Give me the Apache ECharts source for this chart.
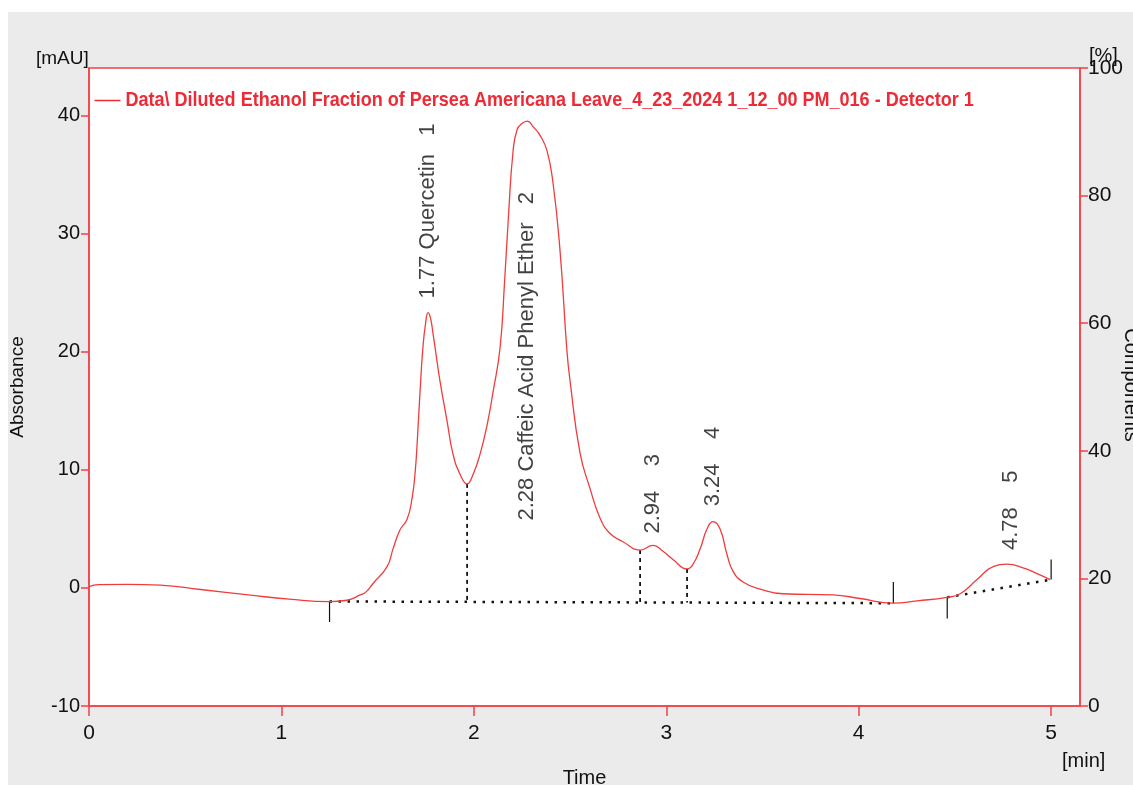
<!DOCTYPE html>
<head>
    <meta charset="utf-8"/>
    <style>
        html, body {
            margin: 0;
            height: 100%;
            background-color: #ffffff;
        }
        #bg {
            position: absolute;
            left: 8px; top: 12px; right: 0; bottom: 0;
            background-color: #ebebeb;
        }
        #main {
            position: absolute;
            left: 0; top: 0;
            width: 1133px; height: 785px;
        }
    </style>
    <script src="https://cdn.jsdelivr.net/npm/echarts@6/dist/echarts.min.js"></script>
</head>
<body>
<div id="bg"></div>
<div id="main"></div>
<script type="text/javascript">
 // chromatogram trace (min, mAU)
 var time = [0.00, 0.05, 0.20, 0.37, 0.58, 0.84, 1.04, 1.25, 1.34, 1.41, 1.44, 1.476, 1.549, 1.58, 1.616,
     1.653, 1.679, 1.695, 1.708, 1.72, 1.735, 1.75, 1.762, 1.775, 1.788, 1.805, 1.824, 1.861, 1.892, 1.929,
     1.965, 1.996, 2.032, 2.069, 2.10, 2.136, 2.16, 2.18, 2.204, 2.225, 2.25, 2.277, 2.31, 2.344, 2.38,
     2.412, 2.448, 2.484, 2.50, 2.552, 2.604, 2.656, 2.708, 2.775, 2.864, 2.931, 2.983, 3.035, 3.108, 3.139,
     3.176, 3.212, 3.243, 3.279, 3.316, 3.347, 3.399, 3.488, 3.607, 3.867, 4.007, 4.179, 4.304, 4.459, 4.527,
     4.615, 4.699, 4.771, 4.854, 4.927, 4.995];
 var absorbance = [0.1, 0.28, 0.3, 0.23, -0.14, -0.62, -0.96, -1.17, -1.05, -0.6, -0.34, 0.37, 1.8, 3.3, 4.9,
     5.8, 7.6, 9.8, 13, 16.5, 20.3, 22.5, 23.3, 22.8, 21.5, 19.6, 17.5, 14.1, 11.3, 9.6,
     8.8, 9.6, 11.3, 13.8, 16.6, 20.3, 26, 31.5, 37, 38.8, 39.3, 39.5, 39.0, 38.3, 37,
     34.2, 28.5, 20, 17.5, 11.4, 8.4, 5.9, 4.6, 3.9, 3.2, 3.6, 3.1, 2.4, 1.6, 2.0,
     3.3, 5.0, 5.6, 5.0, 2.8, 1.4, 0.5, -0.1, -0.5, -0.6, -0.9, -1.3, -1.1, -0.8, -0.5,
     0.7, 1.8, 2.0, 1.7, 1.2, 0.7];

 // peaks
 var peakTimes = [1.762, 2.277, 2.93, 3.243, 4.79];
 var peakLabels = ['1.77 Quercetin   1', '2.28 Caffeic Acid Phenyl Ether   2', '2.94    3', '3.24    4', '4.78    5'];
 var labelBase = [24.5, 5.7, 4.6, 6.9, 3.2];

 // integration baselines
 var baselineA = [[1.25, -1.15], [4.18, -1.3]];
 var baselineB = [[4.46, -0.8], [5.0, 0.7]];
 // drop lines between peaks
 var dropTimes = [1.965, 2.864, 3.108];
 var dropTop = [8.8, 3.2, 1.6];
 var dropBottom = [-1.2, -1.25, -1.25];
 // peak start / end marks
 var markTimes = [1.25, 4.18, 4.46, 5.0];
 var markFrom = [-1.15, -1.3, -0.8, 0.7];
 var markTo = [-2.9, 0.5, -2.6, 2.4];

 var red = '#f2414a';
 var txtFont = "'Liberation Sans Narrow', 'Liberation Sans', Arial";

 var trace = time.map(function (t, i) { return [t, absorbance[i]]; });

 var series = [{
     type: 'line',
     data: trace,
     smooth: 0.5,
     symbol: 'none',
     lineStyle: {color: '#f23b3b', width: 1.3},
     z: 5
 }];
 [baselineA, baselineB].forEach(function (b) {
     series.push({
         type: 'line', data: b, symbol: 'none', silent: true,
         lineStyle: {color: '#111', width: 2.5, type: [2.5, 6.5]}
     });
 });
 dropTimes.forEach(function (t, i) {
     series.push({
         type: 'line', data: [[t, dropTop[i]], [t, dropBottom[i]]], symbol: 'none', silent: true,
         lineStyle: {color: '#111', width: 1.8, type: [4, 4]}
     });
 });
 markTimes.forEach(function (t, i) {
     series.push({
         type: 'line', data: [[t, markFrom[i]], [t, markTo[i]]], symbol: 'none', silent: true,
         lineStyle: {color: '#111', width: 1.2}
     });
 });
 series.push({
     type: 'scatter',
     symbolSize: 0,
     data: peakTimes.map(function (t, i) { return [t, labelBase[i]]; }),
     label: {
         show: true,
         position: 'inside',
         rotate: 90,
         align: 'left',
         verticalAlign: 'middle',
         color: '#111',
         fontFamily: 'Liberation Sans',
         fontSize: 22,
         formatter: function (p) { return peakLabels[p.dataIndex]; }
     },
     z: 6
 });

 var options = {
     backgroundColor: 'transparent',
     animation: false,
     grid: {
         left: 89, top: 68, width: 991, height: 638,
         outerBoundsMode: 'none', containLabel: false,
         show: true, backgroundColor: '#ffffff', borderColor: red, borderWidth: 1.5
     },
     xAxis: {
         type: 'value',
         min: 0, max: 5.15, interval: 1,
         name: 'Time', nameLocation: 'middle', nameGap: 62,
         nameTextStyle: {color: '#111', fontFamily: txtFont, fontSize: 20},
         axisLine: {show: true, onZero: false, lineStyle: {color: red, width: 1.5}},
         axisTick: {show: true, length: 10, lineStyle: {color: red, width: 1.5}},
         splitLine: {show: false},
         axisLabel: {
             color: '#111', fontFamily: txtFont, fontSize: 21, margin: 17, showMaxLabel: false,
             formatter: function (v) { return Math.abs(v - Math.round(v)) < 1e-6 ? String(Math.round(v)) : ''; }
         }
     },
     yAxis: [{
         type: 'value',
         min: -10, max: 44, interval: 10,
         name: 'Absorbance', nameLocation: 'middle', nameGap: 62,
         nameTextStyle: {color: '#111', fontFamily: 'Liberation Sans', fontSize: 19},
         axisLine: {show: true, onZero: false, lineStyle: {color: red, width: 1.5}},
         axisTick: {show: true, length: 8, lineStyle: {color: red, width: 1.5}},
         splitLine: {show: false},
         axisLabel: {color: '#111', fontFamily: txtFont, fontSize: 20, margin: 9, showMaxLabel: false}
     }, {
         type: 'value',
         position: 'right',
         min: 0, max: 100, interval: 20,
         axisLine: {show: true, onZero: false, lineStyle: {color: red, width: 1.5}},
         axisTick: {show: true, length: 8, lineStyle: {color: red, width: 1.5}},
         splitLine: {show: false},
         axisLabel: {color: '#111', fontFamily: txtFont, fontSize: 21, margin: 8}
     }],
     graphic: [{
         type: 'text', left: 36, top: 49,
         style: {text: '[mAU]', fill: '#111', font: "19px " + txtFont}
     }, {
         type: 'text', left: 1089, top: 46,
         style: {text: '[%]', fill: '#111', font: "20px " + txtFont}
     }, {
         type: 'text', left: 1062, top: 751,
         style: {text: '[min]', fill: '#111', font: "20px " + txtFont}
     }, {
         type: 'text', x: 1131, y: 385, rotation: -Math.PI / 2,
         style: {text: 'Components', fill: '#111', font: "20px 'Liberation Sans'", align: 'center', verticalAlign: 'middle'}
     }, {
         type: 'group', left: 92, top: 90,
         children: [{
             type: 'line', shape: {x1: 0, y1: 11, x2: 26, y2: 11},
             style: {stroke: '#ee2a36', lineWidth: 1.5}
         }, {
             type: 'text', x: 31, y: 11, scaleX: 0.858,
             style: {
                 text: 'Data\\ Diluted Ethanol Fraction of Persea Americana Leave_4_23_2024 1_12_00 PM_016 - Detector 1',
                 fill: '#ee2a36', font: "bold 21px 'Liberation Sans'", verticalAlign: 'middle'
             }
         }]
     }],
     series: series
 };

 var myChart = echarts.init(document.getElementById('main'));
 myChart.setOption(options);
</script>
</body>
